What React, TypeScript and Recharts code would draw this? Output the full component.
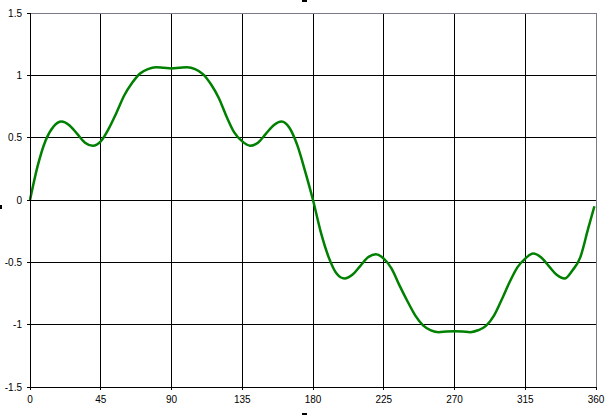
import { LineChart, Line, XAxis, YAxis, CartesianGrid, ReferenceLine } from "recharts";

// degrees along the x axis
const ANGLES = [
  0, 5, 10, 15, 20, 25, 30, 35, 40, 45, 50, 55, 60, 65, 70, 75, 80, 85, 90,
  95, 100, 105, 110, 115, 120, 125, 130, 135, 140, 145, 150, 155, 160, 165,
  170, 175, 180, 185, 190, 195, 200, 205, 210, 215, 220, 225, 230, 235, 240,
  245, 250, 255, 260, 265, 270, 275, 280, 285, 290, 295, 300, 305, 310, 315,
  320, 325, 330, 335, 340, 345, 350, 355, 359,
];

// values
const VALUES = [
  0, 0.28, 0.48, 0.59, 0.63, 0.6, 0.53, 0.46, 0.435, 0.47, 0.57, 0.7, 0.84,
  0.94, 1.015, 1.05, 1.065, 1.06, 1.055, 1.06, 1.065, 1.05, 1.01, 0.93, 0.82,
  0.67, 0.54, 0.47, 0.435, 0.46, 0.53, 0.6, 0.63, 0.58, 0.44, 0.23, 0, -0.26,
  -0.46, -0.59, -0.63, -0.6, -0.53, -0.46, -0.435, -0.47, -0.55, -0.685,
  -0.81, -0.925, -1.005, -1.045, -1.06, -1.055, -1.053, -1.055, -1.06, -1.045,
  -1.01, -0.93, -0.8, -0.66, -0.54, -0.47, -0.43, -0.46, -0.53, -0.6, -0.63,
  -0.565, -0.46, -0.23, -0.05,
];

const X_TICKS = [0, 45, 90, 135, 180, 225, 270, 315, 360];
const Y_TICKS = [-1.5, -1, -0.5, 0, 0.5, 1, 1.5];

const data = ANGLES.map((a, i) => ({ x: a, y: VALUES[i] }));

const tickStyle = { fontSize: 10, fill: "#000", fontFamily: "Liberation Sans, Arial, sans-serif" };

export default function App() {
  return (
    <div style={{ position: "absolute", left: 0, top: 0, width: 609, height: 415, background: "#fff" }}>
      <LineChart
        width={609}
        height={415}
        data={data}
        margin={{ top: 13, right: 13, left: 0, bottom: 0 }}
      >
        <CartesianGrid
          stroke="#000"
          strokeWidth={1}
          shapeRendering="crispEdges"
          verticalValues={[45, 90, 135, 180, 225, 270, 315]}
          horizontalValues={[-1, -0.5, 0, 0.5, 1]}
        />
        <ReferenceLine y={1.5} stroke="#7a7a86" strokeWidth={1} shapeRendering="crispEdges" />
        <ReferenceLine x={360} stroke="#7a7a86" strokeWidth={1} shapeRendering="crispEdges" />
        <XAxis
          dataKey="x"
          type="number"
          domain={[0, 360]}
          ticks={X_TICKS}
          interval={0}
          height={28}
          axisLine={{ stroke: "#000", shapeRendering: "crispEdges" }}
          tickLine={{ stroke: "#000", shapeRendering: "crispEdges" }}
          tickSize={3}
          tickMargin={6}
          tick={tickStyle}
        />
        <YAxis
          type="number"
          domain={[-1.5, 1.5]}
          ticks={Y_TICKS}
          interval={0}
          width={30}
          axisLine={{ stroke: "#000", shapeRendering: "crispEdges" }}
          tickLine={{ stroke: "#000", shapeRendering: "crispEdges" }}
          tickSize={3}
          tickMargin={5}
          tick={tickStyle}
        />
        <Line
          type="monotone"
          dataKey="y"
          stroke="#008000"
          strokeWidth={2.5}
          dot={false}
          isAnimationActive={false}
        />
      </LineChart>
      {/* empty axis title placeholders */}
      <div style={{ position: "absolute", left: 302, top: 0, width: 5, height: 2, background: "#000" }} />
      <div style={{ position: "absolute", left: 302, top: 413, width: 5, height: 2, background: "#000" }} />
      <div style={{ position: "absolute", left: 0, top: 205, width: 2, height: 4, background: "#000" }} />
    </div>
  );
}
